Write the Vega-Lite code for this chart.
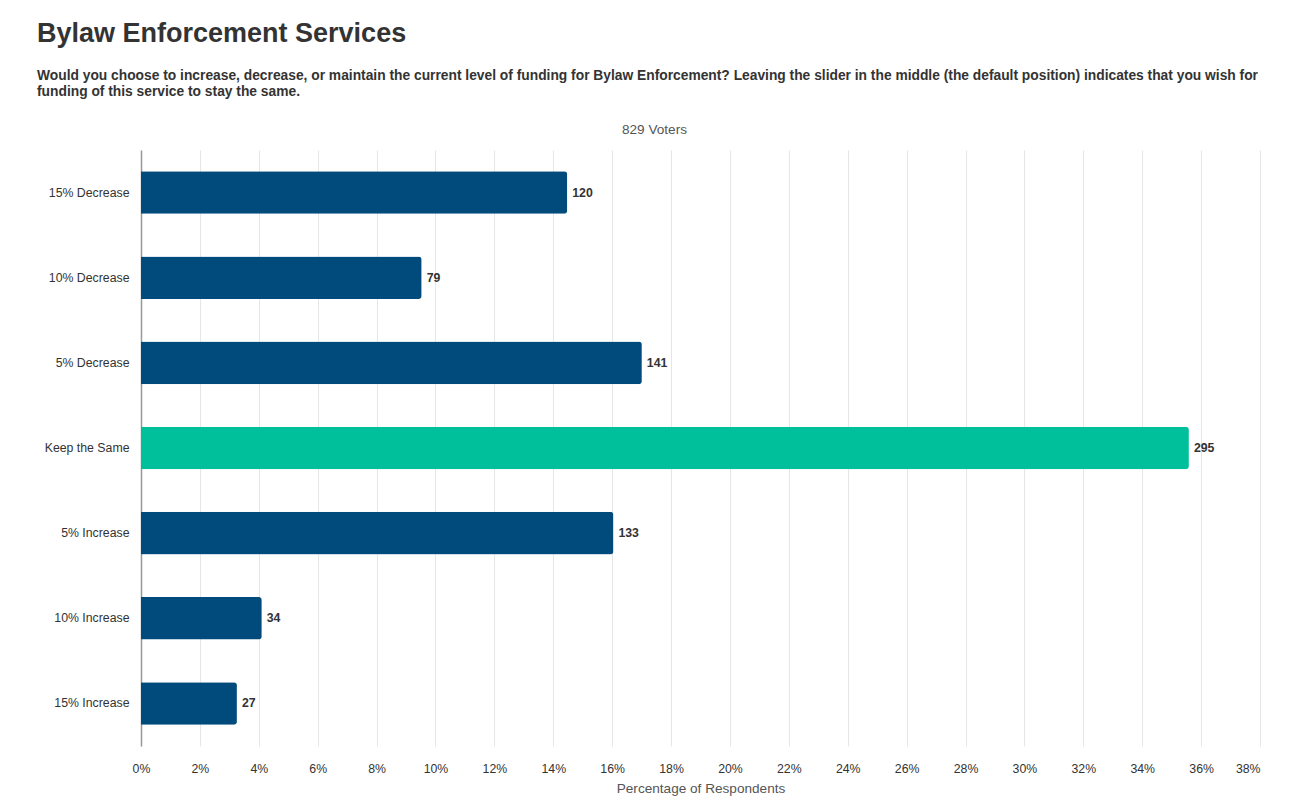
{
  "$schema": "https://vega.github.io/schema/vega-lite/v6.json",
  "width": 1119,
  "height": 596,
  "autosize": {"type": "none"},
  "padding": {"left": 141, "top": 150, "right": 34, "bottom": 58},
  "background": "white",
  "config": {
    "font": "Liberation Sans",
    "view": {"stroke": null}
  },
  "title": {
    "text": "Bylaw Enforcement Services",
    "subtitle": ["Would you choose to increase, decrease, or maintain the current level of funding for Bylaw Enforcement? Leaving the slider in the middle (the default position) indicates that you wish for", "funding of this service to stay the same."],
    "anchor": "start",
    "frame": "group",
    "dx": -104,
    "fontSize": 27,
    "fontWeight": "bold",
    "color": "#333333",
    "subtitleFontSize": 13.8,
    "subtitleFontWeight": "bold",
    "subtitleColor": "#333333",
    "subtitleLineHeight": 16,
    "subtitlePadding": 21,
    "offset": 22
  },
  "data": {
    "values": [
      {"option": "15% Decrease", "votes": 120, "percent": 0.14475, "kind": "change"},
      {"option": "10% Decrease", "votes": 79, "percent": 0.09530, "kind": "change"},
      {"option": "5% Decrease", "votes": 141, "percent": 0.17008, "kind": "change"},
      {"option": "Keep the Same", "votes": 295, "percent": 0.35585, "kind": "same"},
      {"option": "5% Increase", "votes": 133, "percent": 0.16043, "kind": "change"},
      {"option": "10% Increase", "votes": 34, "percent": 0.04101, "kind": "change"},
      {"option": "15% Increase", "votes": 27, "percent": 0.03257, "kind": "change"}
    ]
  },
  "encoding": {
    "y": {
      "field": "option",
      "type": "nominal",
      "sort": null,
      "scale": {"paddingInner": 0.5, "paddingOuter": 0.25},
      "axis": {
        "title": null,
        "ticks": false,
        "labelPadding": 12,
        "labelFontSize": 12.3,
        "labelColor": "#333333",
        "domainColor": "#999999",
        "domainWidth": 1.5,
        "grid": false
      }
    }
  },
  "layer": [
    {
      "mark": {"type": "bar", "cornerRadiusEnd": 3},
      "encoding": {
        "x": {
          "field": "percent",
          "type": "quantitative",
          "scale": {"domain": [0, 0.38], "nice": false},
          "axis": {
            "orient": "bottom",
            "title": "Percentage of Respondents",
            "values": [0, 0.02, 0.04, 0.06, 0.08, 0.10, 0.12, 0.14, 0.16, 0.18, 0.20, 0.22, 0.24, 0.26, 0.28, 0.30, 0.32, 0.34, 0.36, 0.38],
            "format": ".0%",
            "domain": false,
            "ticks": false,
            "grid": true,
            "gridColor": "#e6e6e6",
            "gridWidth": 1,
            "labelFontSize": 12.3,
            "labelColor": "#333333",
            "labelPadding": 16,
            "labelAlign": {"condition": {"test": "datum.value >= 0.379", "value": "right"}, "value": "center"},
            "labelFlush": false,
            "titleFontSize": 13.6,
            "titleFontWeight": "normal",
            "titleColor": "#555555",
            "titlePadding": 7
          }
        },
        "color": {
          "field": "kind",
          "type": "nominal",
          "scale": {"domain": ["change", "same"], "range": ["#004b7c", "#00bf9b"]},
          "legend": null
        }
      }
    },
    {
      "mark": {"type": "text", "align": "left", "dx": 5, "fontSize": 12.3, "fontWeight": "bold", "color": "#333333"},
      "encoding": {
        "x": {
          "field": "percent",
          "type": "quantitative",
          "axis": {
            "orient": "top",
            "title": "829 Voters",
            "titleX": 513,
            "labels": false,
            "ticks": false,
            "domain": false,
            "grid": false,
            "titleFontSize": 13.6,
            "titleFontWeight": "normal",
            "titleColor": "#555555",
            "titlePadding": 14
          }
        },
        "text": {"field": "votes", "type": "quantitative"}
      }
    }
  ],
  "resolve": {"axis": {"x": "independent"}}
}
